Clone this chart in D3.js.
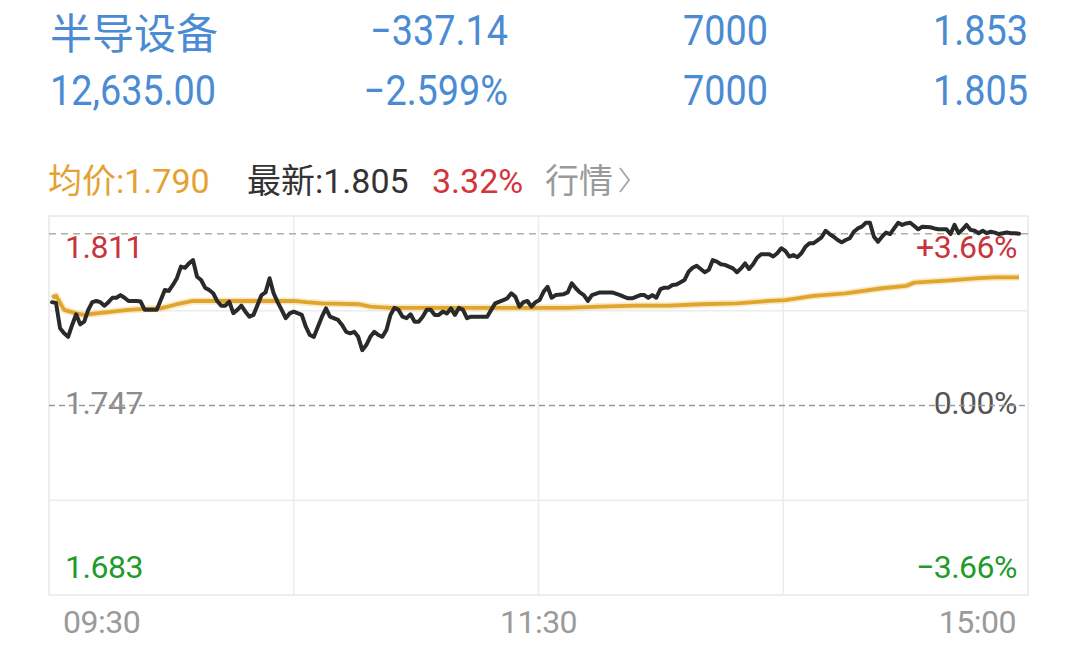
<!DOCTYPE html>
<html><head><meta charset="utf-8">
<script src="https://cdn.jsdelivr.net/npm/d3@7/dist/d3.min.js"></script>
<style>body{margin:0;background:#fff;}svg{display:block;}</style>
</head><body>
<svg id="chart" width="1078" height="650"></svg>
<script>
// ---------- data ----------
const headerRow1 = ["半导设备", "−337.14", "7000", "1.853"];
const headerRow2 = ["12,635.00", "−2.599%", "7000", "1.805"];
const legendAvg = "均价:1.790";
const legendLast = "最新:1.805";
const legendPct = "3.32%";
const legendLink = "行情";
const prevClose = 1.747;
const priceMax = 1.811;
const priceMin = 1.683;
const latestPrice = 1.805;
const leftLabels = ["1.811", "1.747", "1.683"];
const rightLabels = ["+3.66%", "0.00%", "−3.66%"];
const timeLabels = ["09:30", "11:30", "15:00"];
// minutes since open (0..240) and price
const priceMinutes = [0,1,2,3,4,5,6,7,8,9,10,11,12,13,14,15,16,17,18,19,21,22,23,25,26,27,28,29,30,31,32,33,34,35,36,37,38,39,40,41,42,43,44,45,46,47,48,49,50,51,52,53,54,55,56,57,58,59,60,62,63,64,65,66,67,68,69,71,72,73,74,75,76,77,78,79,80,81,82,83,84,85,86,87,88,89,90,91,92,93,94,95,96,97,98,99,100,101,102,103,104,105,107,108,109,110,112,113,114,115,116,117,118,119,120,121,122,123,124,125,127,128,129,130,131,132,133,134,136,137,139,141,142,143,144,146,147,148,149,150,151,152,153,154,155,157,158,159,160,161,162,163,164,165,166,167,169,170,171,172,173,174,175,176,178,179,180,181,182,183,184,185,186,187,188,189,191,192,193,194,195,196,197,198,199,200,201,202,203,204,205,206,207,208,209,210,211,212,213,214,215,216,218,219,220,222,223,224,225,226,227,228,229,230,231,232,233,234,235,237,238,239,240];
const priceValues = [1.7819,1.7816,1.7731,1.7714,1.7702,1.7742,1.7778,1.7744,1.7753,1.7793,1.7819,1.7823,1.7819,1.7807,1.7819,1.7834,1.7834,1.7843,1.7834,1.7823,1.7823,1.7821,1.7793,1.7793,1.7793,1.7826,1.7860,1.7857,1.7877,1.7900,1.7939,1.7935,1.7950,1.7961,1.7905,1.7894,1.7868,1.7860,1.7849,1.7823,1.7807,1.7807,1.7821,1.7782,1.7793,1.7807,1.7787,1.7770,1.7776,1.7809,1.7843,1.7852,1.7900,1.7849,1.7819,1.7793,1.7765,1.7781,1.7787,1.7776,1.7736,1.7708,1.7702,1.7736,1.7770,1.7798,1.7770,1.7759,1.7742,1.7719,1.7714,1.7719,1.7702,1.7657,1.7674,1.7702,1.7719,1.7708,1.7702,1.7725,1.7776,1.7800,1.7793,1.7770,1.7765,1.7778,1.7753,1.7753,1.7770,1.7793,1.7793,1.7776,1.7776,1.7787,1.7781,1.7798,1.7776,1.7800,1.7793,1.7765,1.7770,1.7770,1.7770,1.7770,1.7793,1.7815,1.7826,1.7832,1.7849,1.7837,1.7804,1.7819,1.7823,1.7804,1.7819,1.7826,1.7854,1.7871,1.7834,1.7843,1.7846,1.7852,1.7883,1.7866,1.7852,1.7843,1.7823,1.7843,1.7852,1.7852,1.7852,1.7843,1.7837,1.7832,1.7832,1.7843,1.7843,1.7834,1.7843,1.7834,1.7863,1.7868,1.7868,1.7877,1.7879,1.7894,1.7922,1.7935,1.7942,1.7931,1.7920,1.7928,1.7961,1.7956,1.7947,1.7945,1.7933,1.7920,1.7933,1.7950,1.7931,1.7947,1.7969,1.7981,1.7981,1.7973,1.7984,1.8001,1.7992,1.7973,1.7978,1.7971,1.7984,1.8006,1.8018,1.8018,1.8038,1.8060,1.8049,1.8040,1.8029,1.8021,1.8029,1.8035,1.8057,1.8068,1.8074,1.8087,1.8087,1.8040,1.8023,1.8040,1.8054,1.8049,1.8068,1.8087,1.8080,1.8085,1.8087,1.8076,1.8065,1.8074,1.8072,1.8068,1.8065,1.8065,1.8049,1.8080,1.8052,1.8065,1.8080,1.8063,1.8060,1.8052,1.8060,1.8052,1.8057,1.8054,1.8049,1.8054,1.8052,1.8052,1.8050];
const avgMinutes = [0,1,3,6,8,11,15,19,23,27,31,35,40,48,60,63,67,76,79,84,100,121,128,136,145,153,161,170,178,182,189,197,206,212,214,222,230,234,240];
const avgValues = [1.7835,1.7841,1.7793,1.7781,1.7776,1.7781,1.7787,1.7793,1.7796,1.7798,1.7812,1.7823,1.7823,1.7823,1.7823,1.7819,1.7815,1.7812,1.7804,1.7800,1.7800,1.7800,1.7800,1.7804,1.7807,1.7807,1.7812,1.7815,1.7823,1.7826,1.7840,1.7849,1.7866,1.7874,1.7885,1.7892,1.7900,1.7903,1.7903];

// ---------- drawing ----------
const svg = d3.select("#chart");
const box = {left: 49, right: 1028, top: 216, bottom: 595};
const x = d3.scaleLinear().domain([0, 240]).range([52, 1019]);
const y = d3.scaleLinear().domain([priceMin, priceMax]).range([box.bottom, box.top]);
const gx = d3.scaleLinear().domain([0, 4]).range([box.left, box.right]);
const gy = d3.scaleLinear().domain([0, 4]).range([box.top, box.bottom]);

const blue = "#4a8bd3";
const numFont = "Roboto, 'Noto Sans', sans-serif";
const cjkFont = "Roboto, 'Noto Sans CJK SC', sans-serif";

// header
svg.append("text").attr("x", 50).attr("y", 30).attr("dominant-baseline", "central")
  .attr("font-family", "'Noto Sans CJK SC'").attr("font-size", 42).attr("fill", blue).text(headerRow1[0]);
const colRight = [null, 508, 768, 1028];
[headerRow1, headerRow2].forEach((row, ri) => {
  const cy = ri === 0 ? 45 : 105;
  row.forEach((t, i) => {
    if (ri === 0 && i === 0) return;
    const xr = i === 0 ? 50 : colRight[i];
    svg.append("text")
      .attr("transform", `translate(${xr},${cy}) scale(0.9,1)`)
      .attr("text-anchor", i === 0 ? "start" : "end")
      .attr("font-family", numFont).attr("font-size", 42).attr("fill", blue).text(t);
  });
});

// legend
const legY = 193;
const legSize = 34;
svg.append("text").attr("x", 48).attr("y", legY).attr("font-family", cjkFont).attr("font-size", legSize).attr("fill", "#e4a134").text(legendAvg);
svg.append("text").attr("x", 247).attr("y", legY).attr("font-family", cjkFont).attr("font-size", legSize).attr("fill", "#333").text(legendLast);
svg.append("text").attr("x", 432).attr("y", legY).attr("font-family", cjkFont).attr("font-size", legSize).attr("fill", "#d2353c").text(legendPct);
const link = svg.append("text").attr("x", 545).attr("y", legY).attr("font-family", cjkFont).attr("font-size", legSize).attr("fill", "#9a9a9a").text(legendLink);
const lb = link.node().getBBox();
const cx0 = lb.x + lb.width + 7;
svg.append("path").attr("d", `M${cx0},${legY-25} L${cx0+9},${legY-13} L${cx0},${legY-1}`)
  .attr("fill", "none").attr("stroke", "#aaa").attr("stroke-width", 2);

// grid
const grid = svg.append("g");
grid.append("rect").attr("x", box.left).attr("y", box.top).attr("width", box.right - box.left).attr("height", box.bottom - box.top)
  .attr("fill", "none").attr("stroke", "#e8e8e8").attr("stroke-width", 1.5);
[1, 2, 3].forEach(i => {
  grid.append("line").attr("x1", gx(i)).attr("x2", gx(i)).attr("y1", box.top).attr("y2", box.bottom).attr("stroke", "#ececec").attr("stroke-width", 1.5);
});
[1, 3].forEach(i => {
  grid.append("line").attr("x1", box.left).attr("x2", box.right).attr("y1", gy(i)).attr("y2", gy(i)).attr("stroke", "#ececec").attr("stroke-width", 1.5);
});

// labels
const labFont = 32;
const leftColors = ["#c9343c", "#8c8c8c", "#1f9a2c"];
const rightColors = ["#c9343c", "#555", "#1f9a2c"];
const labBase = [258, 414, 578];
leftLabels.forEach((t, i) => {
  svg.append("text").attr("x", 65).attr("y", labBase[i]).attr("font-family", numFont).attr("font-size", labFont)
    .attr("letter-spacing", -0.5).attr("fill", leftColors[i]).text(t);
  svg.append("text").attr("x", 1017).attr("y", labBase[i]).attr("text-anchor", "end").attr("font-family", numFont).attr("font-size", labFont)
    .attr("letter-spacing", -0.5).attr("fill", rightColors[i]).text(rightLabels[i]);
});

// dashed reference lines
svg.append("line").attr("x1", box.left).attr("x2", box.right).attr("y1", y(prevClose)).attr("y2", y(prevClose))
  .attr("stroke", "#9a9a9a").attr("stroke-width", 1.6).attr("stroke-dasharray", "6,4");
svg.append("line").attr("x1", box.left).attr("x2", box.right).attr("y1", y(latestPrice)).attr("y2", y(latestPrice))
  .attr("stroke", "#b0b09c").attr("stroke-width", 1.6).attr("stroke-dasharray", "7,5");

// time labels
const tAnchor = ["start", "middle", "end"];
const tX = [gx(0) + 14, gx(2), gx(4) - 12];
timeLabels.forEach((t, i) => {
  svg.append("text").attr("x", tX[i]).attr("y", 633).attr("text-anchor", tAnchor[i])
    .attr("font-family", numFont).attr("font-size", labFont).attr("letter-spacing", -0.5).attr("fill", "#9a9a9a").text(t);
});

// lines
const avgData = avgMinutes.map((m, i) => [m, avgValues[i]]);
const priceData = priceMinutes.map((m, i) => [m, priceValues[i]]);
const line = d3.line().x(d => x(d[0])).y(d => y(d[1]));
svg.append("path").attr("d", line(avgData)).attr("fill", "none").attr("stroke", "#f2d48f").attr("stroke-width", 7).attr("stroke-opacity", 0.5).attr("stroke-linejoin", "round");
svg.append("path").attr("d", line(avgData)).attr("fill", "none").attr("stroke", "#e0a52c").attr("stroke-width", 3.8).attr("stroke-linejoin", "round");
svg.append("path").attr("d", line(priceData)).attr("fill", "none").attr("stroke", "#2a2a2a").attr("stroke-width", 4).attr("stroke-linejoin", "round").attr("stroke-linecap", "round");
</script>
</body></html>
